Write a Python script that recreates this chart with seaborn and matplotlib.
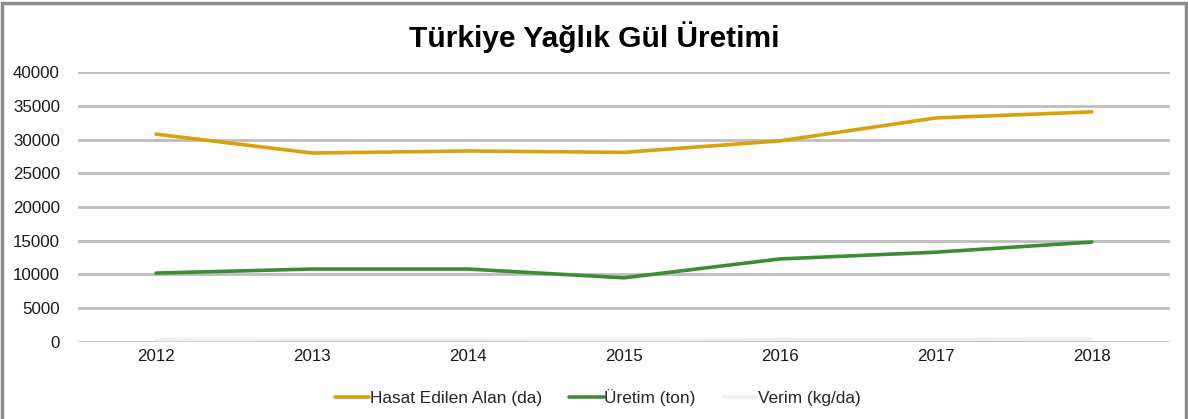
import pandas as pd
import seaborn as sns
import matplotlib.pyplot as plt
from matplotlib.patches import Rectangle

years = ["2012", "2013", "2014", "2015", "2016", "2017", "2018"]
hasat_alan = [30800, 28000, 28300, 28100, 29800, 33200, 34100]
uretim = [10200, 10800, 10800, 9500, 12300, 13300, 14800]
verim = [330, 385, 380, 340, 410, 400, 435]
series_names = ["Hasat Edilen Alan (da)", "Üretim (ton)", "Verim (kg/da)"]
colors = ["#d9a20b", "#3b8c35", "#f0f0f0"]

sns.set_style("white")
plt.rcParams["font.family"] = ["Liberation Sans", "DejaVu Sans"]

df = pd.DataFrame({"Yıl": years,
                   series_names[0]: hasat_alan,
                   series_names[1]: uretim,
                   series_names[2]: verim})
long_df = df.melt(id_vars="Yıl", var_name="seri", value_name="deger")

fig = plt.figure(figsize=(11.88, 4.19), dpi=100)
ax = fig.add_axes([0.0657, 0.184, 0.919, 0.644])

sns.lineplot(data=long_df, x="Yıl", y="deger", hue="seri", hue_order=series_names,
             palette=colors, linewidth=2.6, ax=ax, zorder=3)

ax.set_ylim(0, 40000)
ax.set_yticks(range(0, 40001, 5000))
ax.set_xlim(-0.5, 6.5)
ax.yaxis.grid(True, color="#bdbdbd", linewidth=2)
ax.set_axisbelow(True)
for s in ax.spines.values():
    s.set_visible(False)
ax.tick_params(length=0, labelsize=12.2, colors="#1a1a1a", pad=5)
ax.tick_params(axis="y", pad=13)
ax.set_xlabel("")
ax.set_ylabel("")

fig.text(0.5, 0.912, "Türkiye Yağlık Gül Üretimi", fontsize=21.5, fontweight="bold",
         color="black", ha="center", va="center")

ax.legend(loc="upper center", bbox_to_anchor=(0.476, -0.118), ncol=3, frameon=False,
          fontsize=12.4, handlelength=2.0, handletextpad=0.02, columnspacing=1.6)

fig.patches.append(Rectangle((0.002, -0.01), 0.996, 1.003, transform=fig.transFigure,
                             fill=False, edgecolor="#8c8c8c", linewidth=2.5))

fig.savefig("out.png", dpi=100)
